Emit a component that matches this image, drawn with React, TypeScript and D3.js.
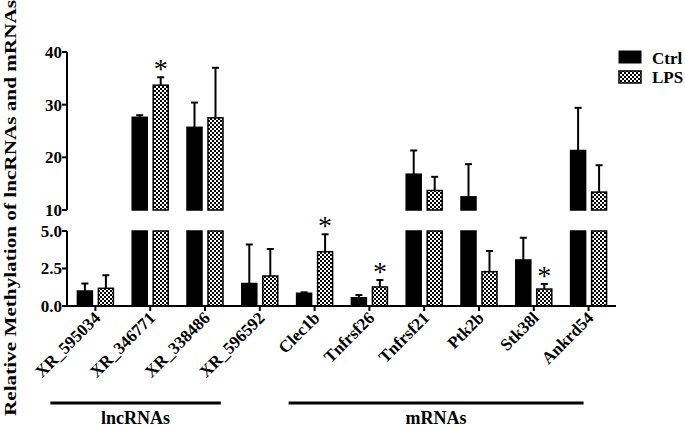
import * as d3 from "d3";

const CATEGORIES = [
  "XR_595034",
  "XR_346771",
  "XR_338486",
  "XR_596592",
  "Clec1b",
  "Tnfrsf26",
  "Tnfrsf21",
  "Ptk2b",
  "Stk38l",
  "Ankrd54",
];
const CTRL = [1.0, 27.6, 25.7, 1.5, 0.85, 0.55, 16.8, 12.5, 3.07, 21.3];
const CTRL_SD = [0.5, 0.4, 4.7, 2.6, 0.06, 0.18, 4.5, 6.2, 1.48, 8.1];
const LPS = [1.18, 33.7, 27.5, 2.0, 3.62, 1.27, 13.7, 2.29, 1.13, 13.4];
const LPS_SD = [0.87, 1.5, 9.5, 1.8, 1.16, 0.46, 2.6, 1.38, 0.34, 5.1];
const LPS_SIG = [false, true, false, false, true, true, false, false, true, false];

const UPPER_TICKS = [10, 20, 30, 40];
const LOWER_TICKS = [0, 2.5, 5];

const GROUPS = [
  { label: "lncRNAs", from: "XR_595034", to: "XR_596592" },
  { label: "mRNAs", from: "Clec1b", to: "Ankrd54" },
];

const FONT = "'Times New Roman', 'Liberation Serif', Tinos, 'DejaVu Serif', serif";
const BREAK_LO = 5;
const BREAK_HI = 10;

const x = d3.scaleBand().domain(CATEGORIES).range([68, 616]);
const inner = d3
  .scaleBand()
  .domain(["Ctrl", "LPS"])
  .range([9.4, 45.4])
  .paddingInner(0.2857);
const yUp = d3.scaleLinear().domain([10, 40]).range([210, 52]);
const yLo = d3.scaleLinear().domain([0, 5]).range([306, 231]);

function Bar({ cx, value, sd, fill, star }: any) {
  const w = inner.bandwidth();
  const left = cx - w / 2;
  const top = value + sd;
  const inUpper = value > BREAK_HI;
  const yVal = inUpper ? yUp(value) : yLo(value);
  const yTop = inUpper ? yUp(top) : yLo(top);
  return (
    <g>
      <line x1={cx} x2={cx} y1={yVal} y2={yTop} stroke="#000" strokeWidth={2} />
      <line x1={cx - 3.5} x2={cx + 3.5} y1={yTop} y2={yTop} stroke="#000" strokeWidth={2} />
      <rect
        x={left}
        y={yLo(Math.min(value, BREAK_LO))}
        width={w}
        height={yLo(0) - yLo(Math.min(value, BREAK_LO))}
        fill={fill}
        stroke="#000"
        strokeWidth={1.5}
      />
      {inUpper && (
        <rect
          x={left}
          y={yUp(value)}
          width={w}
          height={yUp(BREAK_HI) - yUp(value)}
          fill={fill}
          stroke="#000"
          strokeWidth={1.5}
        />
      )}
      {star && (
        <text
          x={cx}
          y={yTop - 12 + 13}
          textAnchor="middle"
          fontFamily={FONT}
          fontSize={28}
        >
          *
        </text>
      )}
    </g>
  );
}

export default function App() {
  const half = x.bandwidth() / 2;
  return (
    <svg
      width={685}
      height={427}
      style={{ position: "absolute", left: 0, top: 0, background: "#fff" }}
    >
      <defs>
        <pattern id="checker" width={4} height={4} patternUnits="userSpaceOnUse">
          <rect width={4} height={4} fill="#fff" />
          <rect width={2} height={2} fill="#000" />
          <rect x={2} y={2} width={2} height={2} fill="#000" />
        </pattern>
      </defs>

      {/* bars */}
      {CATEGORIES.map((c, i) => {
        const x0 = x(c)!;
        return (
          <g key={c}>
            <Bar
              cx={x0 + inner("Ctrl")! + inner.bandwidth() / 2}
              value={CTRL[i]}
              sd={CTRL_SD[i]}
              fill="#000"
            />
            <Bar
              cx={x0 + inner("LPS")! + inner.bandwidth() / 2}
              value={LPS[i]}
              sd={LPS_SD[i]}
              fill="url(#checker)"
              star={LPS_SIG[i]}
            />
          </g>
        );
      })}

      {/* y axis, upper segment */}
      <line x1={67} x2={67} y1={yUp(40)} y2={yUp(10)} stroke="#000" strokeWidth={2} />
      {UPPER_TICKS.map((t) => (
        <g key={"u" + t}>
          <line x1={62} x2={67} y1={yUp(t)} y2={yUp(t)} stroke="#000" strokeWidth={2} />
          <text
            x={62}
            y={yUp(t)}
            dy="0.35em"
            textAnchor="end"
            fontFamily={FONT}
            fontWeight="bold"
            fontSize={17}
          >
            {t}
          </text>
        </g>
      ))}

      {/* y axis, lower segment */}
      <line x1={67} x2={67} y1={yLo(5)} y2={yLo(0)} stroke="#000" strokeWidth={2} />
      {LOWER_TICKS.map((t) => (
        <g key={"l" + t}>
          <line x1={62} x2={67} y1={yLo(t)} y2={yLo(t)} stroke="#000" strokeWidth={2} />
          <text
            x={62}
            y={yLo(t)}
            dy="0.35em"
            textAnchor="end"
            fontFamily={FONT}
            fontWeight="bold"
            fontSize={17}
          >
            {t.toFixed(1)}
          </text>
        </g>
      ))}

      {/* x axis */}
      <line x1={66} x2={616} y1={yLo(0)} y2={yLo(0)} stroke="#000" strokeWidth={2} />
      {CATEGORIES.map((c) => {
        const cx = x(c)! + half;
        return (
          <g key={"t" + c}>
            <line x1={cx} x2={cx} y1={yLo(0)} y2={yLo(0) + 5} stroke="#000" strokeWidth={2} />
            <text
              transform={`translate(${cx + 6},${yLo(0) + 13}) rotate(-45)`}
              textAnchor="end"
              fill="#000"
              fontFamily={FONT}
              fontWeight="bold"
              fontSize={17}
            >
              {c}
            </text>
          </g>
        );
      })}

      {/* group brackets */}
      {GROUPS.map((g, i) => {
        const x1 = x(g.from)! + half - (i === 0 ? 45 : 26);
        const x2 = x(g.to)! + half + (i === 0 ? -39 : -5);
        return (
          <g key={g.label}>
            <line x1={x1} x2={x2} y1={403} y2={403} stroke="#000" strokeWidth={3} />
            <text
              x={(x1 + x2) / 2}
              y={424}
              textAnchor="middle"
              fontFamily={FONT}
              fontWeight="bold"
              fontSize={18}
            >
              {g.label}
            </text>
          </g>
        );
      })}

      {/* y label */}
      <text
        transform="translate(16,208) rotate(-90)"
        textAnchor="middle"
        fontFamily={FONT}
        fontWeight="bold"
        fontSize={17}
        textLength={416}
        lengthAdjust="spacingAndGlyphs"
      >
        Relative Methylation of lncRNAs and mRNAs
      </text>

      {/* legend */}
      <rect x={619} y={51} width={22} height={12} fill="#000" stroke="#000" strokeWidth={1} />
      <text x={652} y={64} fontFamily={FONT} fontWeight="bold" fontSize={17}>
        Ctrl
      </text>
      <rect x={619} y={71} width={22} height={12} fill="url(#checker)" stroke="#000" strokeWidth={1.5} />
      <text x={652} y={83} fontFamily={FONT} fontWeight="bold" fontSize={17}>
        LPS
      </text>
    </svg>
  );
}
